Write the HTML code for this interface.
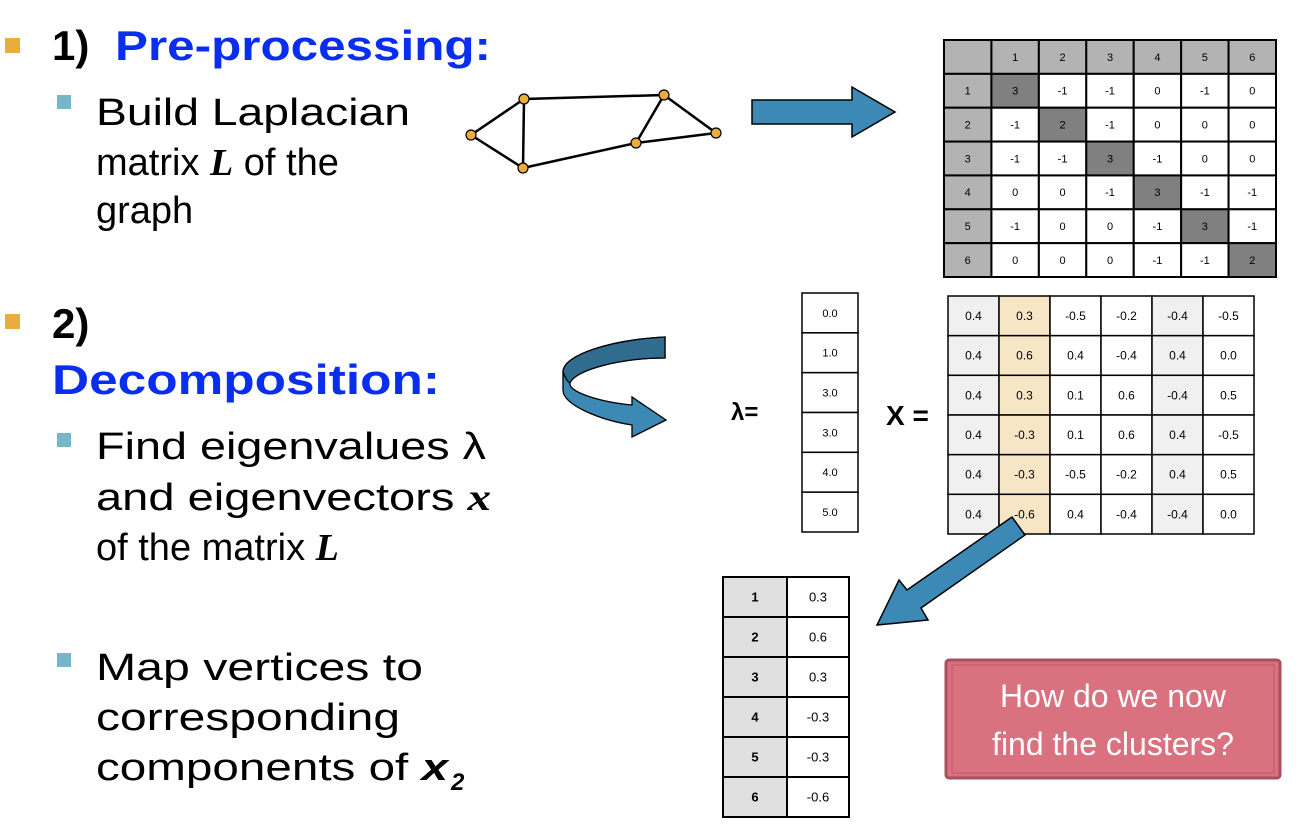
<!DOCTYPE html>
<html><head><meta charset="utf-8"><style>
html,body{margin:0;padding:0;background:#fff;width:1298px;height:830px;overflow:hidden}
svg{display:block}
text{font-family:"Liberation Sans",sans-serif}
</style></head><body>
<svg width="1298" height="830" viewBox="0 0 1298 830" xmlns="http://www.w3.org/2000/svg">
<!-- left text -->
<rect x="5" y="38" width="15" height="15" fill="#e8ad3c"/>
<text x="52" y="60" font-size="42" font-weight="bold" fill="#000">1)</text>
<text x="115" y="60" font-size="42" font-weight="bold" fill="#0a2ef0" textLength="376" lengthAdjust="spacingAndGlyphs">Pre-processing:</text>
<rect x="57" y="95" width="14" height="14" fill="#77b5c9"/>
<text x="96" y="125" font-size="38" textLength="314" lengthAdjust="spacingAndGlyphs">Build Laplacian</text>
<text x="96" y="175" font-size="38">matrix <tspan font-family="Liberation Serif" font-style="italic" font-weight="bold">L</tspan> of the</text>
<text x="96" y="223" font-size="38">graph</text>

<rect x="5" y="314" width="15" height="15" fill="#e8ad3c"/>
<text x="52" y="338" font-size="42" font-weight="bold">2)</text>
<text x="52" y="394" font-size="42" font-weight="bold" fill="#0a2ef0" textLength="388" lengthAdjust="spacingAndGlyphs">Decomposition:</text>
<rect x="57" y="433" width="14" height="14" fill="#77b5c9"/>
<text x="96" y="459" font-size="38" textLength="390" lengthAdjust="spacingAndGlyphs">Find eigenvalues λ</text>
<text x="96" y="510" font-size="38" textLength="395" lengthAdjust="spacingAndGlyphs">and eigenvectors <tspan font-family="Liberation Serif" font-style="italic" font-weight="bold">x</tspan></text>
<text x="96" y="560" font-size="38">of the matrix <tspan font-family="Liberation Serif" font-style="italic" font-weight="bold">L</tspan></text>
<rect x="57" y="653" width="14" height="14" fill="#77b5c9"/>
<text x="96" y="680" font-size="38" textLength="327" lengthAdjust="spacingAndGlyphs">Map vertices to</text>
<text x="96" y="730" font-size="38" textLength="304" lengthAdjust="spacingAndGlyphs">corresponding</text>
<text x="96" y="780" font-size="38" textLength="352" lengthAdjust="spacingAndGlyphs">components of <tspan font-weight="bold" font-style="italic">x</tspan></text>
<text x="451" y="790" font-size="24" font-weight="bold" font-style="italic">2</text>

<!-- graph -->
<g stroke="#000" stroke-width="2.5" fill="none">
<line x1="471" y1="135" x2="524" y2="99"/><line x1="471" y1="135" x2="523" y2="168"/>
<line x1="524" y1="99" x2="523" y2="168"/><line x1="524" y1="99" x2="664" y2="95"/>
<line x1="523" y1="168" x2="636" y2="143"/><line x1="636" y1="143" x2="664" y2="95"/>
<line x1="636" y1="143" x2="716" y2="133"/><line x1="664" y1="95" x2="716" y2="133"/>
</g>
<g fill="#e8ad3c" stroke="#000" stroke-width="1.2">
<circle cx="471" cy="135" r="5"/><circle cx="524" cy="99" r="5"/><circle cx="523" cy="168" r="5"/>
<circle cx="636" cy="143" r="5"/><circle cx="664" cy="95" r="5"/><circle cx="716" cy="133" r="5"/>
</g>
<!-- right arrow -->
<polygon points="752,100 852,100 852,87 895,112 852,137 852,124 752,124" fill="#3d89b5" stroke="#000" stroke-width="1.5"/>
<!-- curved arrow -->
<path d="M665,337 C610,340 563,355 563,372 L563,390 C563,405 600,420 632,425 L632,437 L666,420 L632,397 L632,405 C600,402 568,392 570,383 C575,370 620,358 665,358 Z" fill="#3d89b5" stroke="#000" stroke-width="1.3"/>
<path d="M665,337 C610,340 563,355 563,372 C565,378 568,382 570,383 C575,370 620,358 665,358 Z" fill="#2f6c8e" stroke="#000" stroke-width="1.3"/>
<!-- diag arrow -->
<polygon points="1012,517 1025,535 907,590 928,620 877,625 899,580 922,610" fill="#3d89b5" stroke="#000" stroke-width="1.5" style="display:none"/>
<polygon points="1012,517 1025,535 921,608 928,620 877,625 899,580 907,590" fill="#3d89b5" stroke="#000" stroke-width="1.5"/>

<!-- L matrix -->
<g id="L" font-size="12" text-anchor="middle" fill="#000">
</g>
<!-- lambda/X labels -->
<text x="731" y="420" font-size="24" font-weight="bold">λ=</text>
<text x="886" y="425" font-size="28" font-weight="bold">X =</text>

<!-- pink box -->
<rect x="946" y="660" width="334" height="118" rx="3" fill="#d9717f" stroke="#a8505c" stroke-width="3"/>
<rect x="952" y="665" width="322" height="108" fill="none" stroke="#b65c69" stroke-width="1"/>
<text x="1113" y="707" font-size="32" fill="#fff" text-anchor="middle">How do we now</text>
<text x="1113" y="755" font-size="32" fill="#fff" text-anchor="middle">find the clusters?</text>

<g id="tables"></g>
</svg>
<script>
var NS="http://www.w3.org/2000/svg",g=document.getElementById("tables");
function cell(x,y,w,h,fill,txt,fs,bold,sw){var r=document.createElementNS(NS,"rect");r.setAttribute("x",x);r.setAttribute("y",y);r.setAttribute("width",w);r.setAttribute("height",h);r.setAttribute("fill",fill);r.setAttribute("stroke","#000");r.setAttribute("stroke-width",sw||1.5);g.appendChild(r);
if(txt!==""){var t=document.createElementNS(NS,"text");t.setAttribute("x",x+w/2);t.setAttribute("y",y+h/2+fs*0.35);t.setAttribute("font-size",fs);t.setAttribute("text-anchor","middle");if(bold)t.setAttribute("font-weight","bold");t.textContent=txt;g.appendChild(t);}}
// L matrix
var L=[["","1","2","3","4","5","6"],["1","3","-1","-1","0","-1","0"],["2","-1","2","-1","0","0","0"],["3","-1","-1","3","-1","0","0"],["4","0","0","-1","3","-1","-1"],["5","-1","0","0","-1","3","-1"],["6","0","0","0","-1","-1","2"]];
var cw=(1276-944)/7,ch=(277-40)/7;
for(var i=0;i<7;i++)for(var j=0;j<7;j++){var f="#fff";if(i==0||j==0)f="#b3b3b3";else if(i==j)f="#808080";cell(944+j*cw,40+i*ch,cw,ch,f,L[i][j],11,false,2);}
// lambda
var lam=["0.0","1.0","3.0","3.0","4.0","5.0"],lh=(532-293)/6;
for(var i=0;i<6;i++)cell(802,293+i*lh,56,lh,"#fff",lam[i],11);
// X
var X=[["0.4","0.3","-0.5","-0.2","-0.4","-0.5"],["0.4","0.6","0.4","-0.4","0.4","0.0"],["0.4","0.3","0.1","0.6","-0.4","0.5"],["0.4","-0.3","0.1","0.6","0.4","-0.5"],["0.4","-0.3","-0.5","-0.2","0.4","0.5"],["0.4","-0.6","0.4","-0.4","-0.4","0.0"]];
var xw=(1254-948)/6,xh=(534-296)/6,cf=["#f0f0f0","#f7e6c6","#fff","#fff","#f0f0f0","#fff"];
for(var i=0;i<6;i++)for(var j=0;j<6;j++)cell(948+j*xw,296+i*xh,xw,xh,cf[j],X[i][j],12);
// bottom
var B=["0.3","0.6","0.3","-0.3","-0.3","-0.6"],bh=(817-577)/6;
for(var i=0;i<6;i++){cell(723,577+i*bh,64,bh,"#e0e0e0",""+(i+1),13,true,2);cell(787,577+i*bh,62,bh,"#fff",B[i],13,false,2);}
// bring arrow to front
var arr=document.querySelectorAll("polygon")[2];g.appendChild(arr);
</script>
</body></html>
